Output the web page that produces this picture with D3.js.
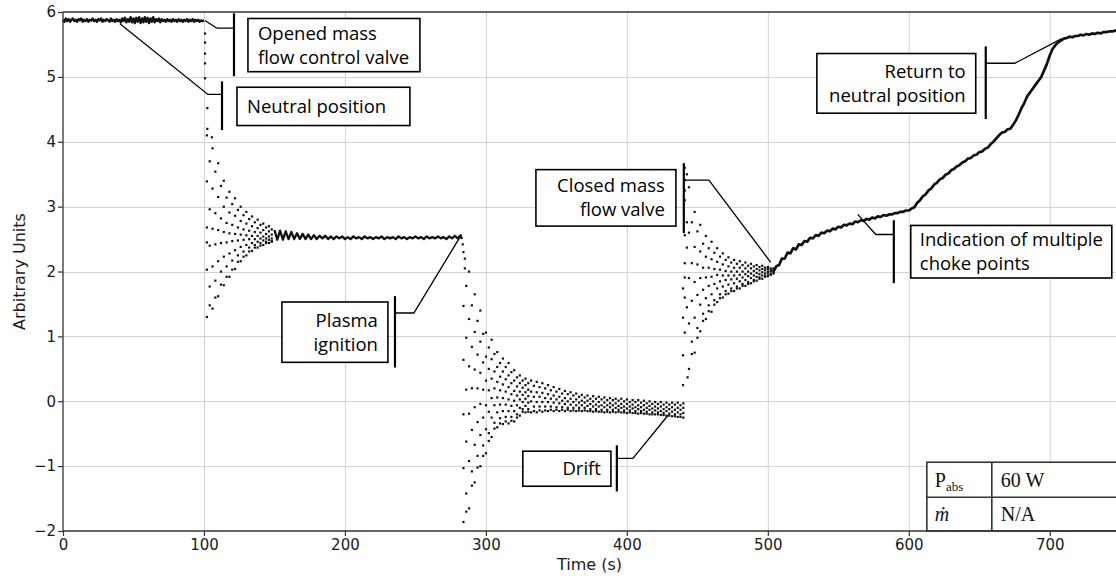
<!DOCTYPE html>
<html><head><meta charset="utf-8">
<script src="https://cdn.jsdelivr.net/npm/d3@7"></script>
<style>body{margin:0;background:#fff}svg{display:block}</style>
</head><body>
<svg id="chart" width="1116" height="576"></svg>
<script>
// ---------------- data (time in s, value in arbitrary units) ----------------
const xTicks = [0,100,200,300,400,500,600,700];
const yTicks = [-2,-1,0,1,2,3,4,5,6];
const xLabel = "Time (s)";
const yLabel = "Arbitrary Units";

// valve open, steady (dense trace)
const holdOpenLine = [[0,5.88],[1,5.85],[2,5.9],[3,5.86],[4,5.89],[5,5.85],[6,5.88],[7,5.9],[8,5.86],[9,5.88],[10,5.85],[11,5.89],[12,5.87],[13,5.9],[14,5.85],[15,5.88],[16,5.86],[17,5.89],[18,5.85],[19,5.88],[20,5.87],
[21,5.9],[22,5.86],[23,5.88],[24,5.85],[25,5.89],[26,5.87],[27,5.9],[28,5.85],[29,5.88],[30,5.86],[31,5.89],[32,5.87],[33,5.85],[34,5.9],[35,5.86],[36,5.88],[37,5.85],[38,5.89],[39,5.86],[40,5.88],
[41,5.84],[42,5.9],[43,5.86],[44,5.91],[45,5.84],[46,5.89],[47,5.85],[48,5.92],[49,5.84],[50,5.9],[51,5.83],[52,5.91],[53,5.85],[54,5.92],[55,5.83],[56,5.9],[57,5.84],[58,5.92],[59,5.85],[60,5.91],
[61,5.83],[62,5.9],[63,5.85],[64,5.92],[65,5.84],[66,5.89],[67,5.86],[68,5.9],[69,5.84],[70,5.89],[71,5.86],[72,5.88],[73,5.85],[74,5.89],[75,5.86],[76,5.88],[77,5.85],[78,5.89],[79,5.86],[80,5.88],
[81,5.85],[82,5.89],[83,5.86],[84,5.88],[85,5.85],[86,5.88],[87,5.86],[88,5.89],[89,5.85],[90,5.88],[91,5.86],[92,5.89],[93,5.85],[94,5.88],[95,5.86],[96,5.88],[97,5.85],[98,5.87],[99,5.86],[100,5.87]];

// fast drop when valve is set to neutral
const valveDrop = [[100.7,5.67],[100.7,5.53],[100.7,5.36],[100.7,5.21],[100.7,4.98],[102.3,4.52],[102.3,4.2],[105.5,4.07]];

// ringing after the drop: [time, [values sampled in that column]]
const ignitionFan = [
[102,[4.10,3.39,2.68,2.03,1.30,2.45]],[104,[3.70,2.96,2.40,1.77,1.48]],[106,[3.90,3.28,2.66,2.08,1.43]],
[108,[3.54,2.90,2.42,1.86,1.60]],[110,[3.67,3.15,2.64,2.16,1.62]],[112,[3.32,2.82,2.44,2.00,1.80]],
[114,[3.40,3.00,2.61,2.23,1.79]],[116,[3.14,2.75,2.45,2.08,1.92]],[118,[3.23,2.91,2.59,2.28,1.92]],
[120,[3.04,2.72,2.47,2.17,2.03]],[122,[3.13,2.86,2.58,2.33,2.04]],[124,[2.95,2.68,2.48,2.25,2.15]],
[126,[3.00,2.78,2.57,2.38,2.16]],[128,[2.87,2.65,2.49,2.31,2.23]],[130,[2.92,2.74,2.56,2.41,2.25]],
[132,[2.81,2.63,2.50,2.37,2.31]],[134,[2.85,2.70,2.55,2.44,2.32]],[136,[2.76,2.61,2.50,2.41,2.37]],
[138,[2.80,2.67,2.55,2.46,2.37]],[140,[2.72,2.60,2.51,2.44,2.40]],[142,[2.74,2.64,2.54,2.48,2.41]],
[144,[2.68,2.58,2.51,2.46,2.44]],[146,[2.70,2.62,2.54,2.49,2.44]],[148,[2.65,2.57,2.51,2.47,2.46]]];

// settled level before plasma ignition (dense trace)
const plasmaLine = [[150,2.64],[152,2.49],[154,2.63],[156,2.49],[158,2.62],[160,2.5],[162,2.61],[164,2.5],[166,2.59],[168,2.5],[170,2.58],[172,2.5],[174,2.57],[176,2.5],[178,2.56],[180,2.5],[182,2.55],[184,2.51],[186,2.55],[188,2.5],[190,2.54],[192,2.5],[194,2.54],[196,2.51],[198,2.54],[200,2.5],[202,2.53],[204,2.5],[206,2.54],[208,2.51],[210,2.53],[212,2.5],[214,2.54],[216,2.51],[218,2.53],[220,2.5],[222,2.53],[224,2.51],[226,2.54],[228,2.5],[230,2.53],[232,2.51],[234,2.53],[236,2.5],[238,2.54],[240,2.51],[242,2.53],[244,2.5],[246,2.53],[248,2.51],[250,2.54],[252,2.51],[254,2.53],[256,2.5],[258,2.54],[260,2.51],[262,2.53],[264,2.51],[266,2.54],[268,2.51],[270,2.53],[272,2.5],[274,2.54],[276,2.51],[278,2.55],[280,2.51],[282,2.56],[283,2.5]];

// ringing after plasma ignition, then slow drift
const driftFan = [
[283.5,[2.42]],[285,[2.2,2.05]],
[284,[2.30,1.47,0.64,-0.20,-1.03,-1.86]],[286,[1.78,0.98,0.18,-0.62,-1.42,-1.70]],[288,[2.00,1.27,0.54,-0.19,-0.92,-1.65]],
[290,[1.48,0.84,0.20,-0.44,-1.08,-1.30]],[292,[1.65,1.07,0.49,-0.09,-0.67,-1.25]],[294,[1.24,0.72,0.20,-0.32,-0.84,-1.02]],
[296,[1.40,0.92,0.44,-0.04,-0.52,-1.00]],[298,[1.04,0.60,0.18,-0.25,-0.68,-0.84]],[300,[1.06,0.69,0.32,-0.06,-0.43,-0.80]],
[302,[0.83,0.50,0.17,-0.16,-0.49,-0.61]],[304,[0.95,0.65,0.35,0.05,-0.25,-0.55]],[306,[0.73,0.46,0.20,-0.06,-0.33,-0.42]],
[308,[0.76,0.53,0.30,0.06,-0.17,-0.40]],[310,[0.59,0.38,0.17,-0.05,-0.26,-0.34]],[312,[0.66,0.46,0.26,0.05,-0.15,-0.35]],
[314,[0.53,0.34,0.15,-0.05,-0.24,-0.31]],[316,[0.59,0.40,0.22,0.03,-0.15,-0.34]],[318,[0.45,0.28,0.11,-0.07,-0.24,-0.30]],
[320,[0.48,0.32,0.16,0.01,-0.15,-0.31]],[322,[0.37,0.23,0.09,-0.06,-0.20,-0.25]],[324,[0.40,0.28,0.15,0.03,-0.10,-0.22]],
[326,[0.32,0.21,0.10,-0.01,-0.12,-0.16]],[328,[0.35,0.25,0.14,0.04,-0.07,-0.17]],[330,[0.28,0.18,0.08,-0.02,-0.12,-0.16]],
[332,[0.32,0.15,0.00,-0.17]],[334,[0.24,0.07,-0.08,-0.15]],[336,[0.30,0.14,-0.01,-0.17]],[338,[0.22,0.07,-0.08,-0.14]],
[340,[0.28,0.13,-0.01,-0.16]],[342,[0.20,0.05,-0.08,-0.14]],[344,[0.25,0.11,-0.01,-0.15]],[346,[0.17,0.04,-0.08,-0.13]],
[348,[0.22,0.09,-0.02,-0.15]],[350,[0.15,0.03,-0.09,-0.13]],[352,[0.19,0.07,-0.03,-0.15]],[354,[0.12,0.01,-0.09,-0.13]],
[356,[0.16,0.05,-0.04,-0.15]],[358,[0.11,0.00,-0.10,-0.13]],[360,[0.14,0.04,-0.05,-0.15]],[362,[0.09,-0.01,-0.10,-0.14]],
[364,[0.12,0.03,-0.06,-0.15]],[366,[0.07,-0.02,-0.10,-0.14]],[368,[0.10,0.01,-0.06,-0.15]],[370,[0.06,-0.02,-0.10,-0.14]],
[372,[0.09,0.01,-0.07,-0.15]],[374,[0.04,-0.04,-0.12,-0.15]],[376,[0.08,0.00,-0.08,-0.16]],[378,[0.04,-0.05,-0.12,-0.15]],
[380,[0.07,-0.01,-0.08,-0.16]],[382,[0.03,-0.06,-0.13,-0.16]],[384,[0.06,-0.02,-0.09,-0.17]],[386,[0.02,-0.06,-0.13,-0.16]],
[388,[0.05,-0.03,-0.09,-0.17]],[390,[0.02,-0.06,-0.13,-0.16]],[392,[0.04,-0.03,-0.10,-0.17]],[394,[0.01,-0.07,-0.13,-0.16]],
[396,[0.04,-0.04,-0.10,-0.17]],[398,[0.00,-0.08,-0.14,-0.17]],[400,[0.03,-0.04,-0.11,-0.18]],[402,[-0.01,-0.08,-0.14,-0.17]],
[404,[0.02,-0.05,-0.11,-0.18]],[406,[-0.01,-0.09,-0.15,-0.18]],[408,[0.02,-0.06,-0.12,-0.19]],[410,[-0.02,-0.09,-0.15,-0.18]],
[412,[0.01,-0.06,-0.13,-0.19]],[414,[-0.03,-0.10,-0.16,-0.19]],[416,[0.00,-0.07,-0.13,-0.20]],[418,[-0.04,-0.11,-0.17,-0.20]],
[420,[-0.01,-0.08,-0.14,-0.20]],[422,[-0.04,-0.11,-0.17,-0.20]],[424,[-0.01,-0.08,-0.15,-0.21]],[426,[-0.05,-0.12,-0.18,-0.21]],
[428,[-0.02,-0.09,-0.15,-0.22]],[430,[-0.05,-0.12,-0.19,-0.22]],[432,[-0.02,-0.09,-0.16,-0.23]],[434,[-0.05,-0.13,-0.20,-0.23]],
[436,[-0.02,-0.10,-0.17,-0.24]],[438,[-0.06,-0.13,-0.20,-0.24]],[440,[-0.03,-0.10,-0.18,-0.25]]];

// ringing after closing the mass flow valve
const closeFan = [
[439.8,[1.74,1.29,0.71,0.25]],[441,[3.6,3.41,3.25,3.1,2.56,2.13,1.91,1.6,1.06]],[442.5,[3.5,2.76,2.37,1.45]],[443,[0.37]],
[444,[3.30,2.60,1.90,1.20,0.50]],[446,[2.76,2.13,1.55,0.92,0.73]],[448,[2.92,2.38,1.84,1.29,0.75]],
[450,[2.62,2.11,1.64,1.13,0.98]],[452,[2.72,2.31,1.90,1.49,1.08]],[454,[2.43,2.06,1.72,1.35,1.24]],
[456,[2.55,2.23,1.91,1.59,1.27]],[458,[2.36,2.06,1.78,1.48,1.39]],[460,[2.46,2.19,1.92,1.65,1.38]],
[462,[2.29,2.04,1.81,1.56,1.49]],[464,[2.36,2.15,1.95,1.74,1.53]],[466,[2.23,2.03,1.85,1.65,1.59]],
[468,[2.28,2.11,1.94,1.77,1.60]],[470,[2.18,2.01,1.87,1.70,1.65]],[472,[2.22,2.08,1.94,1.80,1.66]],
[474,[2.14,2.00,1.88,1.74,1.70]],[476,[2.18,2.06,1.94,1.82,1.70]],[478,[2.12,2.00,1.89,1.77,1.74]],
[480,[2.16,2.06,1.95,1.85,1.74]],[482,[2.10,2.00,1.91,1.81,1.78]],[484,[2.14,2.05,1.96,1.87,1.78]],
[486,[2.09,2.00,1.93,1.84,1.81]],[488,[2.12,2.05,1.97,1.90,1.82]],[490,[2.08,2.01,1.94,1.87,1.85]],
[492,[2.10,2.04,1.98,1.92,1.86]],[494,[2.07,2.02,1.96,1.91,1.89]],[496,[2.09,2.04,1.99,1.94,1.89]],
[498,[2.06,2.02,1.97,1.93,1.92]],[500,[2.07,2.04,2.00,1.97,1.93]],[502,[2.05,2.02,2.00,1.96,1.95]],
[504,[2.05,2.03,2.01,1.99,1.97]]];

// recovery towards neutral position (dense trace)
const returnLine = [[504,2.0],[506,2.08],[508,2.1],[510,2.2],[512,2.2],[514,2.29],[516,2.28],[518,2.36],[520,2.34],[522,2.42],[524,2.41],[526,2.47],[528,2.46],[530,2.52],[532,2.51],[534,2.56],[536,2.55],[538,2.6],[540,2.59],[542,2.63],[544,2.62],[546,2.66],[548,2.65],[550,2.69],[552,2.68],[554,2.72],[556,2.71],[558,2.74],[560,2.73],[562,2.77],[564,2.76],[566,2.79],[568,2.78],[570,2.81],[572,2.8],[574,2.83],[576,2.82],[578,2.85],[580,2.84],[582,2.87],[584,2.86],[586,2.88],[588,2.88],[590,2.9],[592,2.9],[594,2.92],[596,2.92],[598,2.94],[600,2.94],[602,2.97],
[604,2.99],[606,3.06],[608,3.1],[610,3.16],[612,3.19],[614,3.25],[616,3.28],[618,3.34],[620,3.37],[622,3.42],[624,3.44],[626,3.49],[628,3.51],[630,3.56],[632,3.58],[634,3.62],[636,3.64],[638,3.68],[640,3.7],[642,3.74],[644,3.75],[646,3.79],[648,3.8],[650,3.84],[652,3.85],[654,3.89],[656,3.91],[658,3.96],[660,4.0],[662,4.05],[664,4.1],[666,4.14],[668,4.15],[670,4.19],[672,4.2],[674,4.26],[676,4.33],[678,4.42],[680,4.52],[682,4.6],[684,4.7],[686,4.76],[688,4.82],[690,4.88],[692,4.94],[694,5.0],[696,5.1],[698,5.2],[700,5.33],[702,5.43],[704,5.49],[706,5.53],[708,5.56],[710,5.59],[712,5.6],[714,5.62],[716,5.61],[718,5.63],[720,5.63],[722,5.65],[724,5.64],[726,5.66],[728,5.65],[730,5.67],[732,5.66],[734,5.68],[736,5.67],[738,5.69],[740,5.69],[742,5.7],[744,5.7],[746,5.71],[748,5.72]];

// callouts (all in data coordinates)
const annotationText = [["Opened mass","flow control valve"],["Neutral position"],["Plasma","ignition"],["Closed mass","flow valve"],["Drift"],["Return to","neutral position"],["Indication of multiple","choke points"]];
const annotationTarget = [[100.7,5.87],[40.4,5.82],[281.6,2.53],[502.1,2.14],[429.1,-0.22],[708.5,5.59],[563.8,2.88]];
const annotationJoint  = [[109.2,5.75],[102.8,4.73],[248.9,1.36],[458.2,3.41],[404.3,-0.88],[675.2,5.21],[576.6,2.57]];
const annotationBar    = [[121.3,5.98,5.01],[112.8,4.93,4.18],[235.5,1.62,0.52],[440.4,3.67,2.59],[392.9,-0.68,-1.39],[654.6,5.47,4.35],[589.4,2.79,1.82]];
const annotationBox    = [[131.2,253.2,5.90,5.08],[123.4,246.1,4.84,4.25],[155.3,230.5,1.53,0.60],[335.5,434.8,3.57,2.70],[326.2,388.7,-0.77,-1.31],[534.8,647.5,5.36,4.44],[601.4,744.0,2.71,1.90]];
const annotationTextT  = [138.3,130.5,223.4,427.0,381.6,640.4,607.8];
const annotationAlign  = ["start","start","end","end","end","end","start"];

// parameter table
const tableLabels = ["P","ṁ"];
const tableSubs = ["abs",""];
const tableValues = ["60 W","N/A"];
const tableCols = [612.8,658.9,760];
const tableRowsV = [-0.94,-1.48,-2.0];

// ---------------- drawing ----------------
const W = 1116, H = 576;
const svg = d3.select("#chart");
const x = d3.scaleLinear().domain([0,747]).range([63,1116]);
const y = d3.scaleLinear().domain([-2,6]).range([531,12]);
const ink = "#111";

// grid
const grid = svg.append("g").attr("stroke","#d2d2d2").attr("stroke-width",1);
grid.selectAll("line.gx").data(xTicks.filter(d=>d>0)).join("line")
  .attr("x1",d=>x(d)+0.5).attr("x2",d=>x(d)+0.5).attr("y1",y(6)).attr("y2",y(-2));
grid.selectAll("line.gy").data(yTicks.filter(d=>d>-2&&d<6)).join("line")
  .attr("y1",d=>Math.round(y(d))+0.5).attr("y2",d=>Math.round(y(d))+0.5).attr("x1",x(0)).attr("x2",W);

// data
const plot = svg.append("g");
const line = d3.line().x(d=>x(d[0])).y(d=>y(d[1]));
[[holdOpenLine,2.4],[plasmaLine,2.3],[returnLine,2.7]].forEach(([s,w])=>{
  plot.append("path").datum(s).attr("d",line).attr("fill","none").attr("stroke",ink).attr("stroke-width",w).attr("stroke-linejoin","round");
});
const flat = f => f.flatMap(([t,vs])=>vs.map(v=>[t,v]));
const pts = [].concat(valveDrop, flat(ignitionFan), flat(driftFan), flat(closeFan));
plot.selectAll("rect.pt").data(pts).join("rect")
  .attr("x",d=>x(d[0])-1).attr("y",d=>y(d[1])-1).attr("width",2.2).attr("height",2.2).attr("fill",ink);

// annotations
const ann = svg.append("g");
annotationText.forEach((lines,i)=>{
  const tg = annotationTarget[i], jn = annotationJoint[i], br = annotationBar[i], bx = annotationBox[i];
  ann.append("path")
    .attr("d", d3.line()([[x(tg[0]),y(tg[1])],[x(jn[0]),y(jn[1])],[x(br[0]),y(jn[1])]]))
    .attr("fill","none").attr("stroke","#000").attr("stroke-width",1.3);
  ann.append("line").attr("x1",x(br[0])).attr("x2",x(br[0])).attr("y1",y(br[1])).attr("y2",y(br[2]))
    .attr("stroke","#000").attr("stroke-width",2.2);
  const x0 = x(bx[0]), x1 = x(bx[1]), y0 = y(bx[2]), y1 = y(bx[3]);
  ann.append("rect").attr("x",x0).attr("y",y0).attr("width",x1-x0).attr("height",y1-y0)
    .attr("fill","#fff").attr("stroke","#000").attr("stroke-width",1.6);
  const cy = (y0+y1)/2;
  lines.forEach((s,k)=>{
    ann.append("text").attr("x",x(annotationTextT[i])).attr("y",cy+(k-(lines.length-1)/2)*24+6.5)
      .attr("text-anchor",annotationAlign[i])
      .style("font-family","'Open Sans', sans-serif").style("font-size","18.5px").attr("fill","#000").text(s);
  });
});

// table
const tb = svg.append("g");
tb.append("rect").attr("x",x(tableCols[0])).attr("y",y(tableRowsV[0]))
  .attr("width",x(tableCols[2])-x(tableCols[0])).attr("height",y(tableRowsV[2])-y(tableRowsV[0]))
  .attr("fill","#fff").attr("stroke","#333").attr("stroke-width",1.6);
tb.append("line").attr("x1",x(tableCols[1])).attr("x2",x(tableCols[1])).attr("y1",y(tableRowsV[0])).attr("y2",y(tableRowsV[2])).attr("stroke","#333").attr("stroke-width",1.6);
tb.append("line").attr("x1",x(tableCols[0])).attr("x2",x(tableCols[2])).attr("y1",y(tableRowsV[1])).attr("y2",y(tableRowsV[1])).attr("stroke","#333").attr("stroke-width",1.6);
tableLabels.forEach((lab,r)=>{
  const cy = (y(tableRowsV[r])+y(tableRowsV[r+1]))/2 + 7;
  const t = tb.append("text").attr("x",x(tableCols[0])+8).attr("y",cy)
    .style("font-family","'Liberation Serif','DejaVu Serif',serif").style("font-size","20px").attr("fill","#111");
  if (tableSubs[r]) {
    t.append("tspan").text(lab);
    t.append("tspan").attr("dy",4).style("font-size","13px").text(tableSubs[r]);
  } else {
    t.style("font-style","italic").text(lab);
  }
  tb.append("text").attr("x",x(tableCols[1])+9).attr("y",cy)
    .style("font-family","'Liberation Serif','DejaVu Serif',serif").style("font-size","20px").attr("fill","#111").text(tableValues[r]);
});

// spines
const sp = svg.append("g").attr("stroke","#333").attr("stroke-width",1.3);
sp.append("line").attr("x1",x(0)).attr("x2",x(0)).attr("y1",y(6)).attr("y2",y(-2));
sp.append("line").attr("x1",x(0)).attr("x2",W).attr("y1",y(-2)).attr("y2",y(-2));
sp.append("line").attr("x1",x(0)).attr("x2",W).attr("y1",y(6)).attr("y2",y(6));

// axes
const fmt = d3.format("d");
const xa = svg.append("g").attr("transform",`translate(0,${y(-2)})`)
  .call(d3.axisBottom(x).tickValues(xTicks).tickFormat(fmt).tickSize(5).tickPadding(3).tickSizeOuter(0));
const ya = svg.append("g").attr("transform",`translate(${x(0)},0)`)
  .call(d3.axisLeft(y).tickValues(yTicks).tickFormat(fmt).tickSize(5).tickPadding(2).tickSizeOuter(0));
[xa,ya].forEach(a=>{
  a.select(".domain").remove();
  a.selectAll(".tick line").attr("stroke","#333").attr("stroke-width",1.2);
  a.selectAll(".tick text").attr("fill","#1a1a1a").style("font-family","'DejaVu Sans',sans-serif").style("font-size","15px");
});

svg.append("text").attr("x",(x(0)+W)/2).attr("y",570).attr("text-anchor","middle")
  .style("font-family","'DejaVu Sans',sans-serif").style("font-size","16px").attr("fill","#1a1a1a").text(xLabel);
svg.append("text").attr("transform",`translate(25,${(y(6)+y(-2))/2}) rotate(-90)`).attr("text-anchor","middle")
  .style("font-family","'DejaVu Sans',sans-serif").style("font-size","16px").attr("fill","#1a1a1a").text(yLabel);
</script>
</body></html>
